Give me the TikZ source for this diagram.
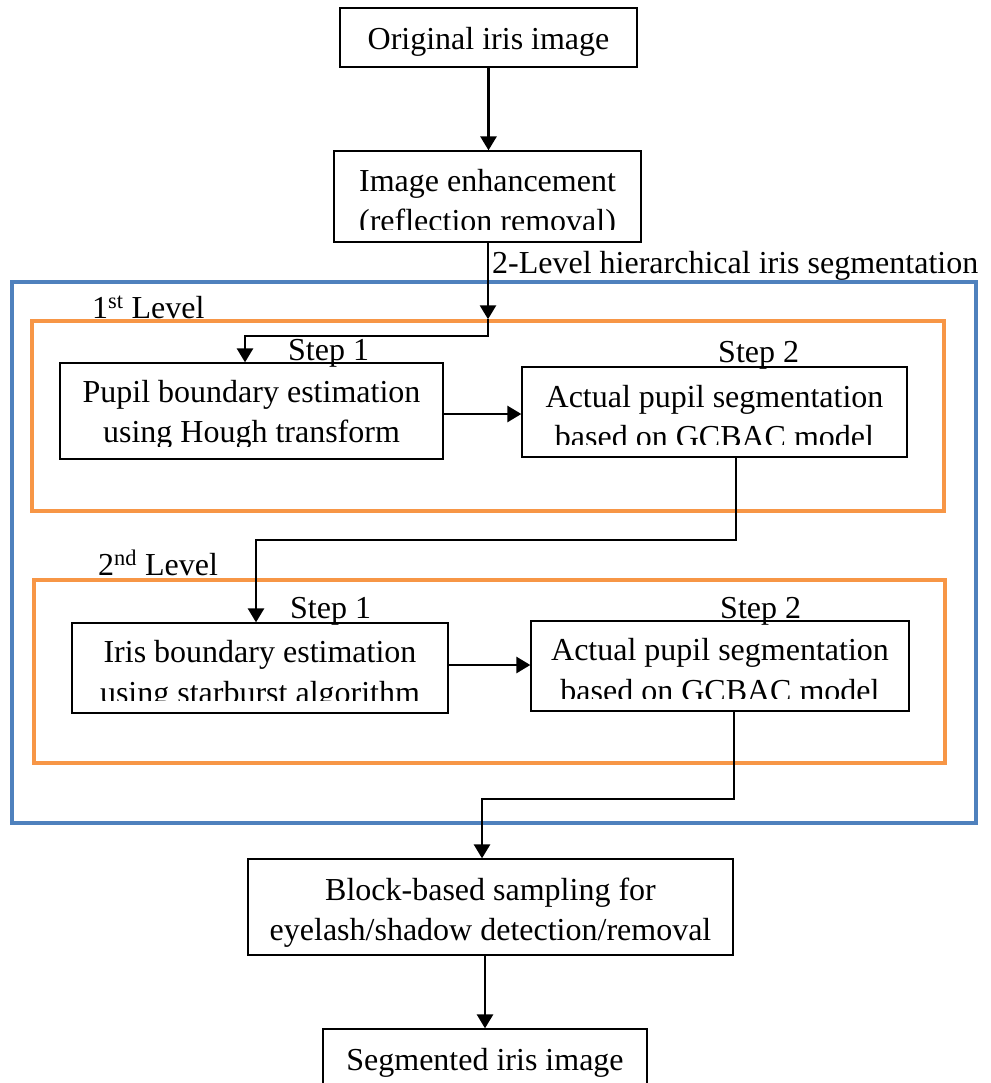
\documentclass[tikz,border=0pt]{standalone}
\usepackage{fontspec}
\setmainfont{Liberation Serif}
\usetikzlibrary{arrows.meta}
\definecolor{frameblue}{RGB}{79,129,189}
\definecolor{frameorange}{RGB}{247,150,70}
\begin{document}
\begin{tikzpicture}[x=1pt,y=-1pt,
  box/.style={draw=black,line width=1.3pt,rectangle,inner sep=0pt},
  txt/.style={anchor=base,inner sep=0pt,font=\fontsize{32}{39}\selectfont},
  lbl/.style={anchor=base west,inner sep=0pt,font=\fontsize{32}{39}\selectfont},
  conn/.style={line width=2.8pt},
  arr/.style={conn,-{Triangle[length=14pt,width=16pt]}},
  bluebox/.style={draw=frameblue,line width=4pt,rectangle,inner sep=0pt},
  orangebox/.style={draw=frameorange,line width=3.5pt,rectangle,inner sep=0pt}]

\clip (0,0) rectangle (990,1083);

% process boxes
\node[box,minimum width=297pt,minimum height=59pt] (b1) at (488.5,37.5) {};
\node[box,minimum width=307pt,minimum height=91pt] (b2) at (487.5,196.5) {};
\node[box,minimum width=383pt,minimum height=96pt] (b3) at (251.5,411) {};
\node[box,minimum width=385pt,minimum height=90pt] (b4) at (714.5,412) {};
\node[box,minimum width=376pt,minimum height=90pt] (b5) at (260,668) {};
\node[box,minimum width=378pt,minimum height=90pt] (b6) at (720,666) {};
\node[box,minimum width=485pt,minimum height=96pt] (b7) at (490.5,907) {};
\node[box,minimum width=324pt,minimum height=71pt] (b8) at (485,1064.5) {};

% box texts (the text area stops a little above each box's lower edge)
\node[txt] (t1) at (488.5,50) {Original iris image};
\begin{scope}
  \clip (b2.north west) rectangle ([yshift=13pt]b2.south east);
  \node[txt] (t2a) at (487.5,192) {Image enhancement};
  \node[txt] (t2b) at (487.5,232) {(reflection removal)};
\end{scope}
\begin{scope}
  \clip (b3.north west) rectangle ([yshift=13pt]b3.south east);
  \node[txt] (t3a) at (251.5,402) {Pupil boundary estimation};
  \node[txt] (t3b) at (251.5,442) {using Hough transform};
\end{scope}
\begin{scope}
  \clip (b4.north west) rectangle ([yshift=13pt]b4.south east);
  \node[txt] (t4a) at (714.5,407) {Actual pupil segmentation};
  \node[txt] (t4b) at (714.5,447) {based on GCBAC model};
\end{scope}
\begin{scope}
  \clip (b5.north west) rectangle ([yshift=13pt]b5.south east);
  \node[txt] (t5a) at (260,662) {Iris boundary estimation};
  \node[txt] (t5b) at (260,703) {using starburst algorithm};
\end{scope}
\begin{scope}
  \clip (b6.north west) rectangle ([yshift=13pt]b6.south east);
  \node[txt] (t6a) at (720,660) {Actual pupil segmentation};
  \node[txt] (t6b) at (720,701) {based on GCBAC model};
\end{scope}
\node[txt] (t7a) at (490.5,900) {Block-based sampling for};
\node[txt] (t7b) at (490.5,940) {eyelash/shadow detection/removal};
\node[txt] (t8) at (485,1070) {Segmented iris image};

% frame and step labels
\node[lbl] (seg) at (492,273) {2-Level hierarchical iris segmentation};
\node[lbl] (l1) at (92,318) {1\textsuperscript{st} Level};
\node[lbl] (l2) at (98,575) {2\textsuperscript{nd} Level};
\node[lbl] (s11) at (288,360) {Step 1};
\node[lbl] (s12) at (718,362) {Step 2};
\node[lbl] (s21) at (290,618) {Step 1};
\node[lbl] (s22) at (720,618) {Step 2};

% frames
\node[bluebox,minimum width=964pt,minimum height=541pt] (lv0) at (494,552.5) {};
\node[orangebox,minimum width=912pt,minimum height=190pt] (lv1) at (488,416) {};
\node[orangebox,minimum width=911pt,minimum height=183pt] (lv2) at (489.5,671.5) {};

% connectors
\coordinate (c1) at (488,336);
\coordinate (c2) at (245,336);
\coordinate (c3) at (736,540);
\coordinate (c4) at (256,540);
\coordinate (c5) at (734,799);
\coordinate (c6) at (482,799);

\draw[arr] (b1.south) -- (b1.south |- b2.north);
\draw[arr] (c1 |- b2.south) -- (c1 |- lv1.north);
\draw[arr] (c1 |- lv1.north) -- (c1) -- (c2) -- (c2 |- b3.north);
\draw[arr] (b3.east |- 0,414) -- (b4.west |- 0,414);
\draw[arr] (c3 |- b4.south) -- (c3) -- (c4) -- (c4 |- b5.north);
\draw[arr] (b5.east |- 0,665) -- (b6.west |- 0,665);
\draw[arr] (c5 |- b6.south) -- (c5) -- (c6) -- (c6 |- b7.north);
\draw[arr] (b8.north |- b7.south) -- (b8.north);
\end{tikzpicture}
\end{document}
